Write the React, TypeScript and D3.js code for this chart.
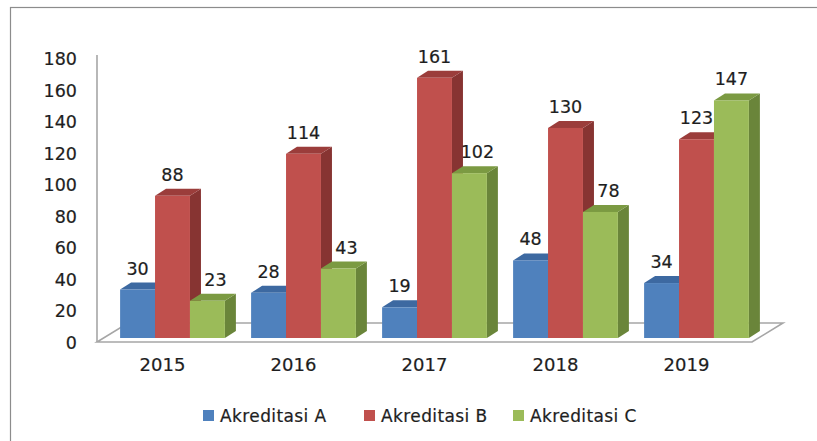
import React from 'react';
import * as d3 from 'd3';

// data
const years = ['2015', '2016', '2017', '2018', '2019'];
const seriesNames = ['Akreditasi A', 'Akreditasi B', 'Akreditasi C'];
const akreditasiA = [30, 28, 19, 48, 34];
const akreditasiB = [88, 114, 161, 130, 123];
const akreditasiC = [23, 43, 102, 78, 147];
const yTicks = [0, 20, 40, 60, 80, 100, 120, 140, 160, 180];

const W = 817;
const H = 441;
const font = '"DejaVu Sans", Verdana, sans-serif';
const textColor = '#1e1e1e';
const textStroke = { stroke: '#1e1e1e', strokeWidth: 0.2 };

// front, top, side
const palette = [
  { front: '#4f81bd', top: '#3d69a1', side: '#36598a' },
  { front: '#c0504d', top: '#9b3d3b', side: '#873432' },
  { front: '#9bbb59', top: '#7b9a42', side: '#6a853a' }
];

const depth = { dx: 11, dy: -7 };

export default function App()
{
  const series = [akreditasiA, akreditasiB, akreditasiC];

  const x = d3.scaleBand().domain(years).range([107, 762]).paddingInner(0.2).paddingOuter(0.1);
  const xInner = d3.scaleBand().domain(seriesNames).range([0, x.bandwidth()]);
  const yBar = d3.scaleLinear().domain([0, 180]).range([338, 338 - 180 * 1.616]);
  const yAxis = d3.scaleLinear().domain([0, 180]).range([342.5, 59]);

  const floor = { x0: 97, x1: 752, y: 342, dx: 31, dy: -19 };
  const floorPath = `M${floor.x0},${floor.y} L${floor.x1},${floor.y} L${floor.x1 + floor.dx},${floor.y + floor.dy} L${floor.x0 + floor.dx},${floor.y + floor.dy} Z`;

  const bars: any[] = [];
  const labels: any[] = [];

  years.forEach((yr, i) =>
  {
    series.forEach((vals, s) =>
    {
      const v = vals[i];
      const x0 = (x(yr) as number) + (xInner(seriesNames[s]) as number);
      const w = xInner.bandwidth();
      const yt = yBar(v);
      const yb = yBar(0);
      const c = palette[s];
      const { dx, dy } = depth;
      bars.push(
        <g key={yr + s}>
          <path d={`M${x0 + w},${yb} L${x0 + w + dx},${yb + dy} L${x0 + w + dx},${yt + dy} L${x0 + w},${yt} Z`} fill={c.side} />
          <path d={`M${x0},${yt} L${x0 + dx},${yt + dy} L${x0 + w + dx},${yt + dy} L${x0 + w},${yt} Z`} fill={c.top} />
          <rect x={x0} y={yt} width={w} height={yb - yt} fill={c.front} />
        </g>
      );
      // green labels get pushed right when the red bar beside them is taller
      const shift = s === 2 && series[1][i] > v ? 8 : 0;
      labels.push(
        <text key={'l' + yr + s} x={x0 + w / 2 + shift} y={yt - 15} textAnchor="middle"
          fontSize={17.5} fontFamily={font} fill={textColor} {...textStroke}>{v}</text>
      );
    });
  });

  const legendX = [203, 364, 513];

  return (
    <div style={{ position: 'absolute', left: 0, top: 0, width: W, height: H, background: '#fff' }}>
      <svg width={W} height={H} style={{ display: 'block' }}>
        <rect x={0} y={0} width={W} height={H} fill="#fff" />
        <rect x={10.5} y={7.5} width={W + 20} height={H + 20} fill="none" stroke="#8c8c8c" strokeWidth={1.2} />

        <path d={floorPath} fill="#fff" stroke="#a6a6a6" strokeWidth={1.6} />
        <line x1={97} x2={97} y1={55} y2={342} stroke="#a6a6a6" strokeWidth={1.6} />

        {yTicks.map(t => (
          <text key={t} x={77} y={yAxis(t)} textAnchor="end" dominantBaseline="central"
            fontSize={17.5} fontFamily={font} fill={textColor} {...textStroke}>{t}</text>
        ))}

        {bars}
        {labels}

        {years.map(yr => (
          <text key={yr} x={(x(yr) as number) + x.bandwidth() / 2 - 10} y={364} textAnchor="middle"
            dominantBaseline="central" fontSize={18} fontFamily={font} fill={textColor} {...textStroke}>{yr}</text>
        ))}

        {seriesNames.map((n, s) => (
          <g key={n}>
            <rect x={legendX[s]} y={410} width={11} height={11} fill={palette[s].front} />
            <text x={legendX[s] + 17} y={416} dominantBaseline="central" fontSize={17} letterSpacing={0.4}
              fontFamily={font} fill={textColor} {...textStroke}>{n}</text>
          </g>
        ))}
      </svg>
    </div>
  );
}
